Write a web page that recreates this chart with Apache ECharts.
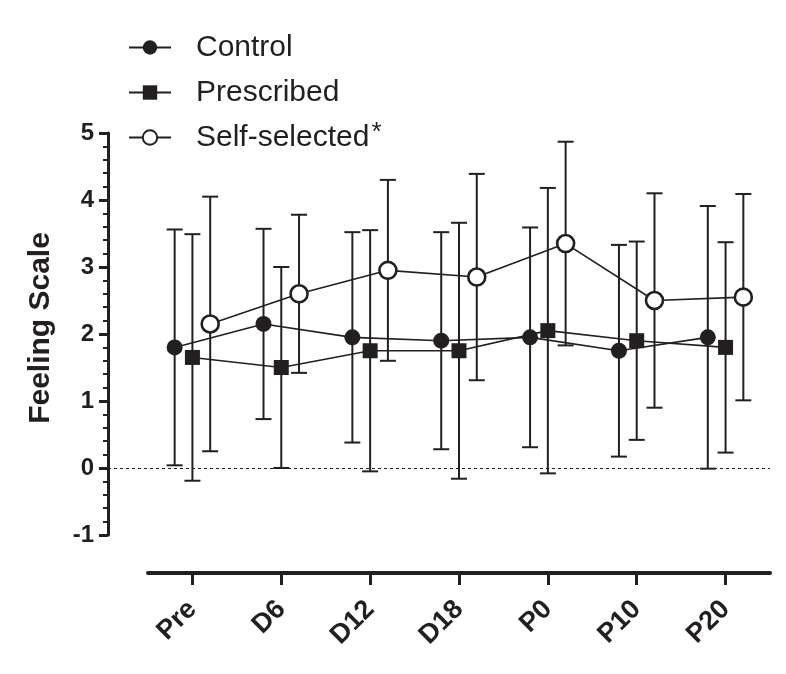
<!DOCTYPE html>
<html>
<head>
<meta charset="utf-8">
<script src="https://cdn.jsdelivr.net/npm/echarts@6/dist/echarts.min.js"></script>
<style>html,body{margin:0;padding:0;background:#fff;}#chart{width:786px;height:674px;}</style>
</head>
<body>
<div id="chart"></div>
<script>
const categories = ['Pre', 'D6', 'D12', 'D18', 'P0', 'P10', 'P20'];
const controlMean = [1.8, 2.15, 1.95, 1.9, 1.95, 1.75, 1.95];
const controlSD = [1.76, 1.42, 1.57, 1.62, 1.64, 1.58, 1.96];
const prescribedMean = [1.65, 1.5, 1.75, 1.75, 2.05, 1.9, 1.8];
const prescribedSD = [1.84, 1.5, 1.8, 1.91, 2.13, 1.48, 1.57];
const selfMean = [2.15, 2.6, 2.95, 2.85, 3.35, 2.5, 2.55];
const selfSD = [1.9, 1.18, 1.35, 1.54, 1.52, 1.6, 1.54];
const seriesNames = ['Control', 'Prescribed', 'Self-selected'];
const yMin = -1, yMax = 5, yInterval = 1;

const FONT = '"Liberation Sans", Arial, sans-serif';
const INK = '#231f20';
const dodge = [-0.2, 0, 0.2];

function pts(mean, k) { return mean.map((v, i) => [i + dodge[k], v]); }
function bars(mean, sd, k) { return mean.map((v, i) => [i + dodge[k], v - sd[i], v + sd[i]]); }

function errRender(params, api) {
  const x = api.value(0);
  const lo = api.coord([x, api.value(1)]);
  const hi = api.coord([x, api.value(2)]);
  const w = 8;
  const st = { stroke: INK, lineWidth: 2 };
  return { type: 'group', children: [
    { type: 'line', shape: { x1: hi[0], y1: hi[1], x2: lo[0], y2: lo[1] }, style: st },
    { type: 'line', shape: { x1: hi[0] - w, y1: hi[1], x2: hi[0] + w, y2: hi[1] }, style: st },
    { type: 'line', shape: { x1: lo[0] - w, y1: lo[1], x2: lo[0] + w, y2: lo[1] }, style: st }
  ]};
}

const means = [controlMean, prescribedMean, selfMean];
const sds = [controlSD, prescribedSD, selfSD];
const symbols = ['circle', 'rect', 'circle'];
const sizes = [16, 15, 17];

const series = [];
means.forEach((m, k) => {
  series.push({
    type: 'custom', xAxisIndex: 0, yAxisIndex: 0, z: 1, silent: true,
    renderItem: errRender, data: bars(m, sds[k], k), encode: { x: 0, y: [1, 2] }
  });
});
means.forEach((m, k) => {
  const s = {
    name: seriesNames[k], type: 'line', xAxisIndex: 0, yAxisIndex: 0, z: 3 + k,
    data: pts(m, k), symbol: symbols[k], symbolSize: sizes[k],
    lineStyle: { color: INK, width: 1.6 },
    itemStyle: k === 2 ? { color: '#fff', borderColor: INK, borderWidth: 2.6 } : { color: INK, borderWidth: 0 },
    animation: false
  };
  if (k === 0) {
    s.markLine = { silent: true, symbol: 'none', label: { show: false },
      lineStyle: { color: INK, type: [3, 3], width: 1 }, data: [{ yAxis: 0 }] };
  }
  series.push(s);
});

const chart = echarts.init(document.getElementById('chart'), null, { renderer: 'canvas' });
chart.setOption({
  animation: false,
  backgroundColor: '#fff',
  legend: {
    orient: 'vertical', left: 123, top: 25,
    itemWidth: 42, itemHeight: 18, itemGap: 10,
    data: seriesNames,
    formatter: n => n === 'Self-selected' ? n + '{sup|*}' : n,
    textStyle: { fontFamily: FONT, fontSize: 30, color: INK, lineHeight: 35, padding: [0, 0, 0, 20],
      rich: { sup: { fontFamily: FONT, fontSize: 26, color: INK, verticalAlign: 'top', lineHeight: 24, padding: [0, 0, 12, 2] } } }
  },
  grid: [
    { left: 108, right: 16, top: 133, bottom: 139 },
    { left: 148, right: 16, top: 133, bottom: 139 }
  ],
  xAxis: [
    { type: 'value', gridIndex: 0, min: -0.95, max: 6.5, show: false },
    { type: 'category', gridIndex: 1, data: categories, boundaryGap: true, offset: 38, position: 'bottom',
      axisLine: { show: true, onZero: false, lineStyle: { color: INK, width: 4 } },
      axisTick: { show: true, alignWithLabel: true, length: 12, lineStyle: { color: INK, width: 3 } },
      axisLabel: { rotate: 45, margin: 32, fontFamily: FONT, fontSize: 27, fontWeight: 'bold', color: INK },
      splitLine: { show: false } }
  ],
  yAxis: [
    { type: 'value', gridIndex: 0, min: yMin, max: yMax, interval: yInterval, position: 'left',
      name: 'Feeling Scale', nameLocation: 'middle', nameGap: 52,
      nameTextStyle: { fontFamily: FONT, fontSize: 30, fontWeight: 'bold', color: INK, padding: [0, 0, 0, 12] },
      axisLine: { show: true, onZero: false, lineStyle: { color: INK, width: 3 } },
      axisTick: { show: true, length: 9, lineStyle: { color: INK, width: 3 } },
      minorTick: { show: true, splitNumber: 5, length: 5, lineStyle: { color: INK, width: 2 } },
      axisLabel: { margin: 14, fontFamily: FONT, fontSize: 24, fontWeight: 'bold', color: INK },
      splitLine: { show: false } },
    { type: 'value', gridIndex: 1, min: yMin, max: yMax, show: false }
  ],
  series: series
});
</script>
</body>
</html>
